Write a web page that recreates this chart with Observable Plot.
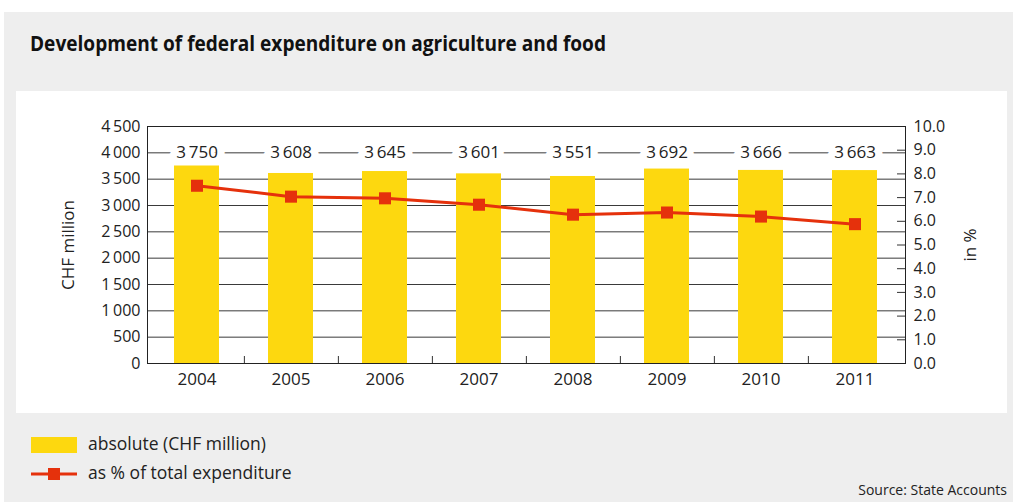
<!DOCTYPE html>
<html>
<head>
<meta charset="utf-8">
<script src="https://cdn.jsdelivr.net/npm/d3@7"></script>
<script src="https://cdn.jsdelivr.net/npm/@observablehq/plot@0.6"></script>
<style>
  body { margin: 0; width: 1013px; height: 502px; position: relative; overflow: hidden; background: #fff; font-family: "Open Sans", sans-serif; color: #222; }
  #bg { position: absolute; left: 4px; top: 12px; width: 1009px; height: 490px; background: #eeeeee; }
  #title { position: absolute; left: 30px; top: 30.5px; font-size: 21px; font-weight: bold; color: #111; line-height: 24px; white-space: nowrap; transform-origin: 0 0; }
  #panel { position: absolute; left: 16px; top: 91px; width: 991px; height: 322px; background: #fff; }
  .leg { position: absolute; left: 88px; font-size: 17.5px; line-height: 22px; white-space: nowrap; color: #222; }
  #source { position: absolute; right: 6px; top: 480px; font-size: 14px; line-height: 20px; color: #222; white-space: nowrap; }
</style>
</head>
<body>
<div id="bg"></div>
<div id="title">Development of federal expenditure on agriculture and food</div>
<div id="panel"></div>
<svg style="position:absolute;left:31px;top:437px" width="46" height="16"><rect width="46" height="16" fill="#fdd80f"/></svg>
<div class="leg" style="top:432px">absolute (CHF million)</div>
<svg style="position:absolute;left:31px;top:466px" width="46" height="16"><line x1="0" x2="46" y1="8" y2="8" stroke="#e5310c" stroke-width="3"/><rect x="17" y="2" width="12" height="12" fill="#e5310c"/></svg>
<div class="leg" style="top:461px">as % of total expenditure</div>
<div id="source">Source: State Accounts</div>
<script>
const years = ["2004", "2005", "2006", "2007", "2008", "2009", "2010", "2011"];
const absolute = [3750, 3608, 3645, 3601, 3551, 3692, 3666, 3663];
const percent = [7.5, 7.04, 6.97, 6.70, 6.28, 6.37, 6.2, 5.88];
const leftTicks = [0, 500, 1000, 1500, 2000, 2500, 3000, 3500, 4000, 4500];
const rightTicks = [0, 1, 2, 3, 4, 5, 6, 7, 8, 9, 10];

const yMax = 4500, pMax = 10, factor = yMax / pMax;
const data = years.map((year, i) => ({year, abs: absolute[i], pct: percent[i]}));
const fmt = d => { const s = String(d); return s.length > 3 ? s.slice(0, s.length - 3) + "\u2009" + s.slice(-3) : s; };

const W = 991, H = 322, mL = 131, mR = 102, mT = 35, mB = 50;
const step = (W - mL - mR) / years.length;
const red = "#e5310c";

const chart = Plot.plot({
  width: W, height: H,
  marginLeft: mL, marginRight: mR, marginTop: mT, marginBottom: mB,
  x: {domain: years, paddingInner: 0.52, paddingOuter: 0.26, axis: null},
  y: {domain: [0, yMax], axis: null},
  style: {fontFamily: "Open Sans", fontSize: "16px", color: "#222", background: "white", overflow: "visible"},
  marks: [
    Plot.gridY(leftTicks, {stroke: "#3a3a3a", strokeOpacity: 1, strokeWidth: 1}),
    Plot.text(data, {x: "year", text: d => fmt(d.abs), frameAnchor: "top", lineAnchor: "middle", dy: 26.5, fill: "#222", stroke: "white", strokeWidth: 15, fontSize: 17}),
    Plot.barY(data, {x: "year", y: "abs", fill: "#fdd80f"}),
    Plot.line(data, {x: "year", y: d => d.pct * factor, stroke: red, strokeWidth: 3}),
    Plot.dot(data, {x: "year", y: d => d.pct * factor, symbol: "square", fill: red, r: 6.8}),
    Plot.axisY(leftTicks, {anchor: "left", tickSize: 0, tickPadding: 7, tickFormat: fmt, label: null, fontSize: 16}),
    Plot.axisY(rightTicks.map(d => d * factor), {anchor: "right", tickSize: 0, tickPadding: 8, tickFormat: d => (d / factor).toFixed(1), label: null, fontSize: 16}),
    Plot.axisY(rightTicks.map(d => d * factor), {anchor: "right", tickSize: -9, tickFormat: () => "", label: null, stroke: "#333"}),
    Plot.axisX(years, {anchor: "bottom", tickSize: 0, tickPadding: 9, label: null, fontSize: 17}),
    Plot.axisX(years.slice(0, -1), {anchor: "bottom", tickSize: -7, dx: step / 2, tickFormat: () => "", label: null, stroke: "#333"}),
    Plot.frame({stroke: "#222"}),
    Plot.text(["CHF million"], {frameAnchor: "left", dx: -79, rotate: -90, textAnchor: "middle", fontSize: 17, fill: "#222"}),
    Plot.text(["in %"], {frameAnchor: "right", dx: 65, rotate: -90, textAnchor: "middle", fontSize: 17, fill: "#222"})
  ]
});
document.getElementById("panel").appendChild(chart);
const title = document.getElementById("title");
const tw = title.getBoundingClientRect().width;
title.style.transform = `scaleX(${576 / tw})`;
</script>
</body>
</html>
